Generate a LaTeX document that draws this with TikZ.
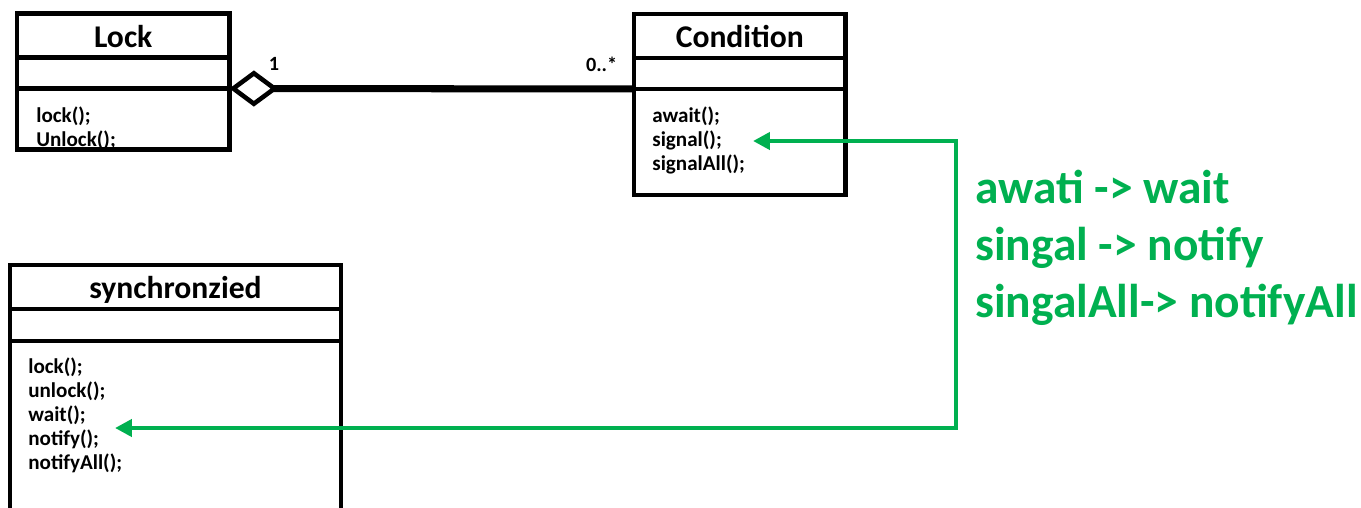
\documentclass[tikz,border=0pt]{standalone}
\usepackage{fontspec}
\setmainfont{Carlito}
\usetikzlibrary{positioning, arrows.meta}
\definecolor{officegreen}{HTML}{00B050}

\begin{document}
\begin{tikzpicture}[x=0.02cm, y=-0.02cm,
        box/.style={draw, rectangle, line width=2.6pt, outer sep=0pt, inner sep=0pt},
        title/.style={box, minimum height=0.88cm, text height=13.5pt, text depth=0pt, font=\fontsize{18}{21}\selectfont\bfseries},
        ops/.style={align=left, inner sep=0pt, font=\fontsize{12}{13.6}\selectfont\bfseries},
        mult/.style={inner sep=0pt, font=\fontsize{11.5}{13}\selectfont\bfseries},
        note/.style={align=left, inner sep=0pt, text=officegreen, font=\fontsize{27}{32.3}\selectfont\bfseries},
        flow/.style={officegreen, line width=2.8pt, {Triangle[length=9.6pt, width=9.6pt]}-{Triangle[length=9.6pt, width=9.6pt]}}]
    \path[use as bounding box, clip] (0,0) rectangle (1361,507);

    % Lock
    \node[title, minimum width=4.25cm, anchor=north west] (lock) at (17,13.5) {Lock};
    \node[box, minimum width=4.25cm, minimum height=0.62cm] (lockattr) [below=0cm of lock] {};
    \node[box, minimum width=4.25cm, minimum height=1.22cm] (lockops) [below=0cm of lockattr] {};
    \node[ops] (lockm) [below right=0.36cm and 0.38cm of lockops.north west] {lock();\\Unlock();};

    % Condition
    \node[title, minimum width=4.23cm, anchor=north west] (cond) at (634,14) {Condition};
    \node[box, minimum width=4.23cm, minimum height=0.62cm] (condattr) [below=0cm of cond] {};
    \node[box, minimum width=4.23cm, minimum height=2.12cm] (condops) [below=0cm of condattr] {};
    \node[ops] (condm) [below right=0.36cm and 0.36cm of condops.north west] {await();\\signal();\\signalAll();};

    % synchronzied
    \node[title, minimum width=6.62cm, anchor=north west] (sync) at (10,265) {synchronzied};
    \node[box, minimum width=6.62cm, minimum height=0.64cm] (syncattr) [below=0cm of sync] {};
    \node[box, minimum width=6.62cm, minimum height=3.5cm] (syncops) [below=0cm of syncattr] {};
    \node[ops] (syncm) [below right=0.34cm and 0.36cm of syncops.north west] {lock();\\unlock();\\wait();\\notify();\\notifyAll();};

    % aggregation
    \draw[line width=4pt, {Diamond[open, length=27.8pt, width=20.6pt, line width=2.6pt]}-]
        (lockattr.south east) -- node[mult, pos=0.11, above=8pt] (one) {1}
        node[mult, pos=0.92, above=8pt] (many) {0..*} (condattr.south west);

    % mapping
    \coordinate (sigtip) at (753,141);
    \coordinate (waittip) at (115,428);
    \coordinate (turn) at (956,428);
    \draw[flow] (sigtip) -| (turn) -- (waittip);

    \node[note, anchor=north west] (map) at (975,170) {awati -> wait\\singal -> notify\\singalAll-> notifyAll};
\end{tikzpicture}
\end{document}
